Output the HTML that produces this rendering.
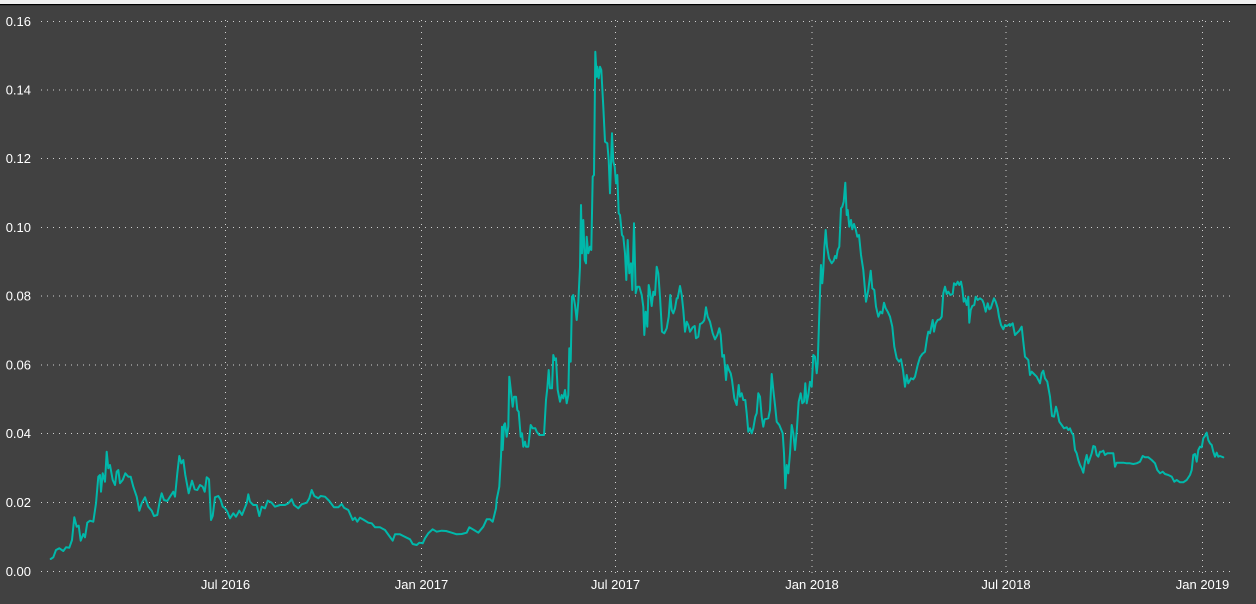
<!DOCTYPE html>
<html>
<head>
<meta charset="utf-8">
<style>
html,body{margin:0;padding:0;background:#414141;}
svg{display:block;}
text{font-family:"Liberation Sans",sans-serif;font-size:13px;fill:#ffffff;}
</style>
</head>
<body>
<svg width="1256" height="604" viewBox="0 0 1256 604" xmlns="http://www.w3.org/2000/svg">
<rect x="0" y="0" width="1256" height="604" fill="#414141"/>
<rect x="0" y="0" width="1256" height="4" fill="#f0f0f0"/>
<rect x="0" y="4" width="1256" height="1.2" fill="#000000"/>
<g stroke="#cfcfcf" stroke-width="1" stroke-dasharray="1 5" fill="none">
<line x1="41" y1="21.5" x2="1232" y2="21.5"/>
<line x1="41" y1="90" x2="1232" y2="90"/>
<line x1="41" y1="158.5" x2="1232" y2="158.5"/>
<line x1="41" y1="227.5" x2="1232" y2="227.5"/>
<line x1="41" y1="296" x2="1232" y2="296"/>
<line x1="41" y1="365" x2="1232" y2="365"/>
<line x1="41" y1="433.5" x2="1232" y2="433.5"/>
<line x1="41" y1="502.5" x2="1232" y2="502.5"/>
<line x1="41" y1="571.5" x2="1232" y2="571.5"/>
<line x1="225.5" y1="20" x2="225.5" y2="576"/>
<line x1="421.5" y1="20" x2="421.5" y2="576"/>
<line x1="615.5" y1="20" x2="615.5" y2="576"/>
<line x1="812" y1="20" x2="812" y2="576"/>
<line x1="1006" y1="20" x2="1006" y2="576"/>
<line x1="1202.5" y1="20" x2="1202.5" y2="576"/>
</g>
<g text-anchor="end">
<text x="31" y="26">0.16</text>
<text x="31" y="94.5">0.14</text>
<text x="31" y="163">0.12</text>
<text x="31" y="232">0.10</text>
<text x="31" y="300.5">0.08</text>
<text x="31" y="369.5">0.06</text>
<text x="31" y="438">0.04</text>
<text x="31" y="507">0.02</text>
<text x="31" y="576">0.00</text>
</g>
<g text-anchor="middle">
<text x="225.5" y="589">Jul 2016</text>
<text x="421.5" y="589">Jan 2017</text>
<text x="615.5" y="589">Jul 2017</text>
<text x="812" y="589">Jan 2018</text>
<text x="1006" y="589">Jul 2018</text>
<text x="1202.5" y="589">Jan 2019</text>
</g>
<polyline fill="none" stroke="#01B8AA" stroke-width="2" stroke-linejoin="round" stroke-linecap="round" points="
50.7,559 53.3,557.3 56,550 59.3,548.3 63.3,551 66,547.3 69.3,547.7 72,540 74.3,517.3 76.7,526.7 78.7,525.7 80.7,540.7 83.3,534 85,537.3 87.3,522.7 90,520.7 93.3,521.7 96,503.3 98.3,476.7 100,475 101,491.7 102.7,473.3 105,481.7 106.7,451.7 108.3,468.3 110,465 112.7,480 115,485 116.7,471.7 118.3,470 120,483.3 122.7,480 125.3,473.3 128.3,476.7 130.7,476.7 133.3,486.7 136.7,496.7 139.3,510.7 141.7,503.3 145,497.3 148.3,506.7 151.7,510.7 154,516 157.3,515 160,500 161.7,493.3 164,500 167.3,501 170,496.7 173.3,491.7 175,496.7 177.3,473.3 179.3,456 181.3,463.3 183.3,460 185.3,475 188.7,493.3 192,480.7 194.7,489.3 197.3,490 200,485 202.7,486.7 204.7,491.7 206.7,477.3 209,479.3 211,520 212.7,516 215,497.3 218.3,496 220.7,500 222.7,506.7 225,508.3 227.3,511.7 230,518.3 233.3,513.3 236,516.7 239.3,510.7 242,515 244.7,508.3 246.7,503.3 248.3,494.3 250,501.7 253.3,505 256.7,505 259.3,516 261.7,506.7 265,508.3 267.7,500.7 271.7,502.7 275,506.7
280,505 285,505 288.3,503.3 291.7,499.3 294,505 298.3,508.3 301.7,504.3 306.7,502.7 309.3,498.3 311.7,490 314.3,496 318.3,498.3 320.7,496 325,496.7 329.3,501 334,507.3 338.3,507.3 341.7,504 344,507.7 348.3,510 352.7,520 355,517.7 357.3,521.7 360,517.7 364,520 368.3,522.7 371.7,523.3 375,527.3 380,527.3 385,530 389.3,536 392.7,540.7 395,534.3 400,534.3 403.3,536 406.7,537.7 410,539.3 412.7,544 416.7,545 419.3,542.7 422.7,543.3 425,538.3 428.3,533.3 432.7,529.3 436.7,531.7 441.7,530.7 446,531 451.7,532.7 456.7,534.3 461.7,534 466.7,532.7 469.3,527.3 474,530 478.3,532.7 483.3,526.7 486.7,519.3 490,519.3 492.7,521.7 496,508.3
496.7,499.3 498.3,491.7 499.3,486.7 501,456.7 502,426.7 502.7,450 504,425 505,423.3 506.7,436.7 508.3,426.7 509.3,376.7 511,391.7 512.7,406.7 514,396.7 516,396.7 517.3,410 518.7,411.7 520.7,436.7 522,433.3 523.3,446.7 525,441.7 526,446.7 528.3,446.7 530.7,425 532.7,428.3 535.3,428.3 536.7,431.7 539.3,435 541.7,435 544,435 546,400 547.3,388.3 548.7,370 550,388.3 552,388.3 553.3,355 554.7,360 556,358.3 557.7,390 560,401.7 561.7,395 563.3,398.3 565,390 566.7,403.3 568.3,395 569.3,348.3 570.7,361.7 572,296.7 573.3,295 575,305 576.7,320 578.3,301.7 580,266.7 581,205 582,253.3 583.3,220 584.7,260 586,263.3 586.7,236.7 588.3,253.3 590,246.7 591.3,250 592.7,176.7 594,175 595.3,51.7 596.7,76.7 597.3,66.7 598.7,78.3 600,66.7 601.3,70 603.3,106.7 605,141.7 607.3,143.3 608.7,160 610,193.3 612,133.3 613.3,161.7 614.7,166.7 616,183.3 617.3,175 618.7,213.3 620,215 622,235 623.3,236.7 625,253.3 626.3,280 627.7,240 629.3,273.3 631,263.3 632.3,290 634,223.3 635.7,293.3 637.3,286.7 639.3,286.7 641.7,295 643.3,306.7 644.3,335 645.7,311.7 647.3,326.7 648.7,285
650,291.7 651.7,306 653.3,291.7 655,295 656.7,266.7 658.3,273.3 660,296.7 662,331.7 664.3,333.3 666.7,328.3 668.7,316.7 670.3,295 671.7,310 673.3,313.3 675,308.3 676.7,298.3 677.7,298.3 680,286 681.7,295 683.3,310 685,331.7 686.7,321.7 688.3,325 690,331.7 692.7,327.3 694.7,326 696,338.3 698.3,336.7 700,324 701.7,323.3 703.3,321.7 704.3,320 706,307.3 707.7,316.7 710,321.7 712.7,333.3 715,339.3 717.3,335 719.3,328.3 720.7,335 722.3,356.7 724,355 726,380 727.3,365 729,370 730.7,373.3 732,380 734.3,398.3 736.7,405 738.7,385 740,396.7 741.7,393.3 743.3,400 745.3,400 746.7,413.3 748.3,431.7 750,428.3 751.7,433.3 753.3,428.3 755.3,416.7 756.7,413.3 758.3,393.3 760,396.7 761.7,416.7 763.3,426.7 764.7,419.3 768.3,418.3 770,410 771.7,374 773.3,390 775,405 776.7,421.7 779.3,425 782.7,433.3 784,453.3 785.3,488.3 786.7,465 788.3,473.3 790,453.3 791.7,425 793.3,433.3 795,450 796.7,431.7 798.7,401.7 800.7,393.3 802.3,403.3 804,401.7 805.3,383.3 806.7,403.3 808.3,395 810,381.7 811.7,386.7 813.3,355 815,356.7 816.7,373.3 817.7,363.3
819,323.3 820.3,283.3 821,265 822.3,283.3 823.3,270 824.3,248.3 825.7,230 827,246.7 829,258.3 831.7,263.3 833.7,260.7 835,256 836.3,258.3 837.7,250 839.3,246.7 841,208.3 842.3,206.7 843.7,201.7 845.3,182.7 846.7,215 847.7,210 849.3,226.7 851,220 852.3,229.3 854,224 855.7,229.3 857.3,236.7 859,235 861,255 863.3,270 866,301.7 868.3,290 870.7,270.7 872.3,288.3 874.3,290 876,306.7 878.3,316.7 880.3,311.7 882.3,313.3 884,302.7 885.7,308.3 887.7,311.7 890,316.7 892.3,326.7 894.3,346.7 896.7,358.3 899,361.7 901,359.3 903,370 905,386.7 906.7,375 908.3,383.3 911,378.3 913.3,379.3 915,376.7 917.7,365 920,357.3 922.3,354 925,351.7 927,338.3 928.3,331.7 930,333.3 931.7,325 932.7,320 934,331.7 935.7,323.3 937.7,320 940,319.3 941.7,316.7 943.3,293.3 945,286.7 946.7,294 948.3,291.7 950.3,295 952.7,294 954,283.3 956,285 957.7,281.7 959.3,285 961,281.7 962.3,288.3 963.7,301.7 965,298.3 966.7,305 968.3,296.7 969.3,322.7 970.7,310 972.3,306 974.3,305 975.7,296.7 977.7,300 980,298.3 982.3,300 983.7,303.3 985.7,311.7 987.7,303.3 989.3,309.3 990.7,308.3 992.3,303.3 994,298.3 995.7,301.7 997.7,308.3 999,316.7 1001,325 1003.3,329.3 1005,325 1007,326 1009.7,324
1010,326 1012.7,323.3 1015,335 1017.3,332.7 1019.3,330.7 1021.7,326.7 1023.3,341.7 1025,356.7 1026.7,358.3 1028.3,360 1030,375 1031.7,371.7 1034,374 1036.7,376.7 1040,383.3 1041.7,373.3 1043.3,370.7 1045,378.3 1047.3,381.7 1050,396.7 1052,416 1054,416.7 1056,406.7 1057.3,411.7 1059.3,421.7 1061.7,425 1064,428.3 1066.7,427.3 1068.3,430 1070,428.3 1071.7,432.7 1073.3,435 1075,450 1076.7,453.3 1078.3,460 1080,465 1081.7,468.3 1083.3,472.7 1085,461.7 1086.7,455 1088.3,463.3 1090,458.3 1091.7,453.3 1093.3,446 1095,446.7 1096.7,455 1098.3,456.7 1100,451.7 1101.7,451.7 1103.3,450.7 1105,455 1107.3,453.3 1110,453.3 1113.3,453.3 1115,466.7 1116.7,462.7 1120,462.7 1123.3,462.7 1126.7,463.3 1130,463.3 1133.3,464 1136.7,463.3 1140,461.7 1142.7,456 1145,457.3 1148.3,457.3 1151.7,460 1155,463.3 1157.3,470 1160,473.3 1162.7,471.7 1165,474 1168.3,475 1171.7,476.7 1174.3,481.7 1176.7,480 1180,482.3 1183.3,482.3 1186.7,480 1190,475 1191.7,470 1193.3,455 1195,454 1196.7,461.7 1198.3,450 1200,446.7 1201.7,447.3 1203.3,438.3 1205,436 1206.7,432.7 1208.3,440 1210,443.3 1211.7,445 1213.3,451.7 1215,456.7 1216.7,452.7 1218.3,456.7 1220,456 1223.3,457.3
"/>
</svg>
</body>
</html>
